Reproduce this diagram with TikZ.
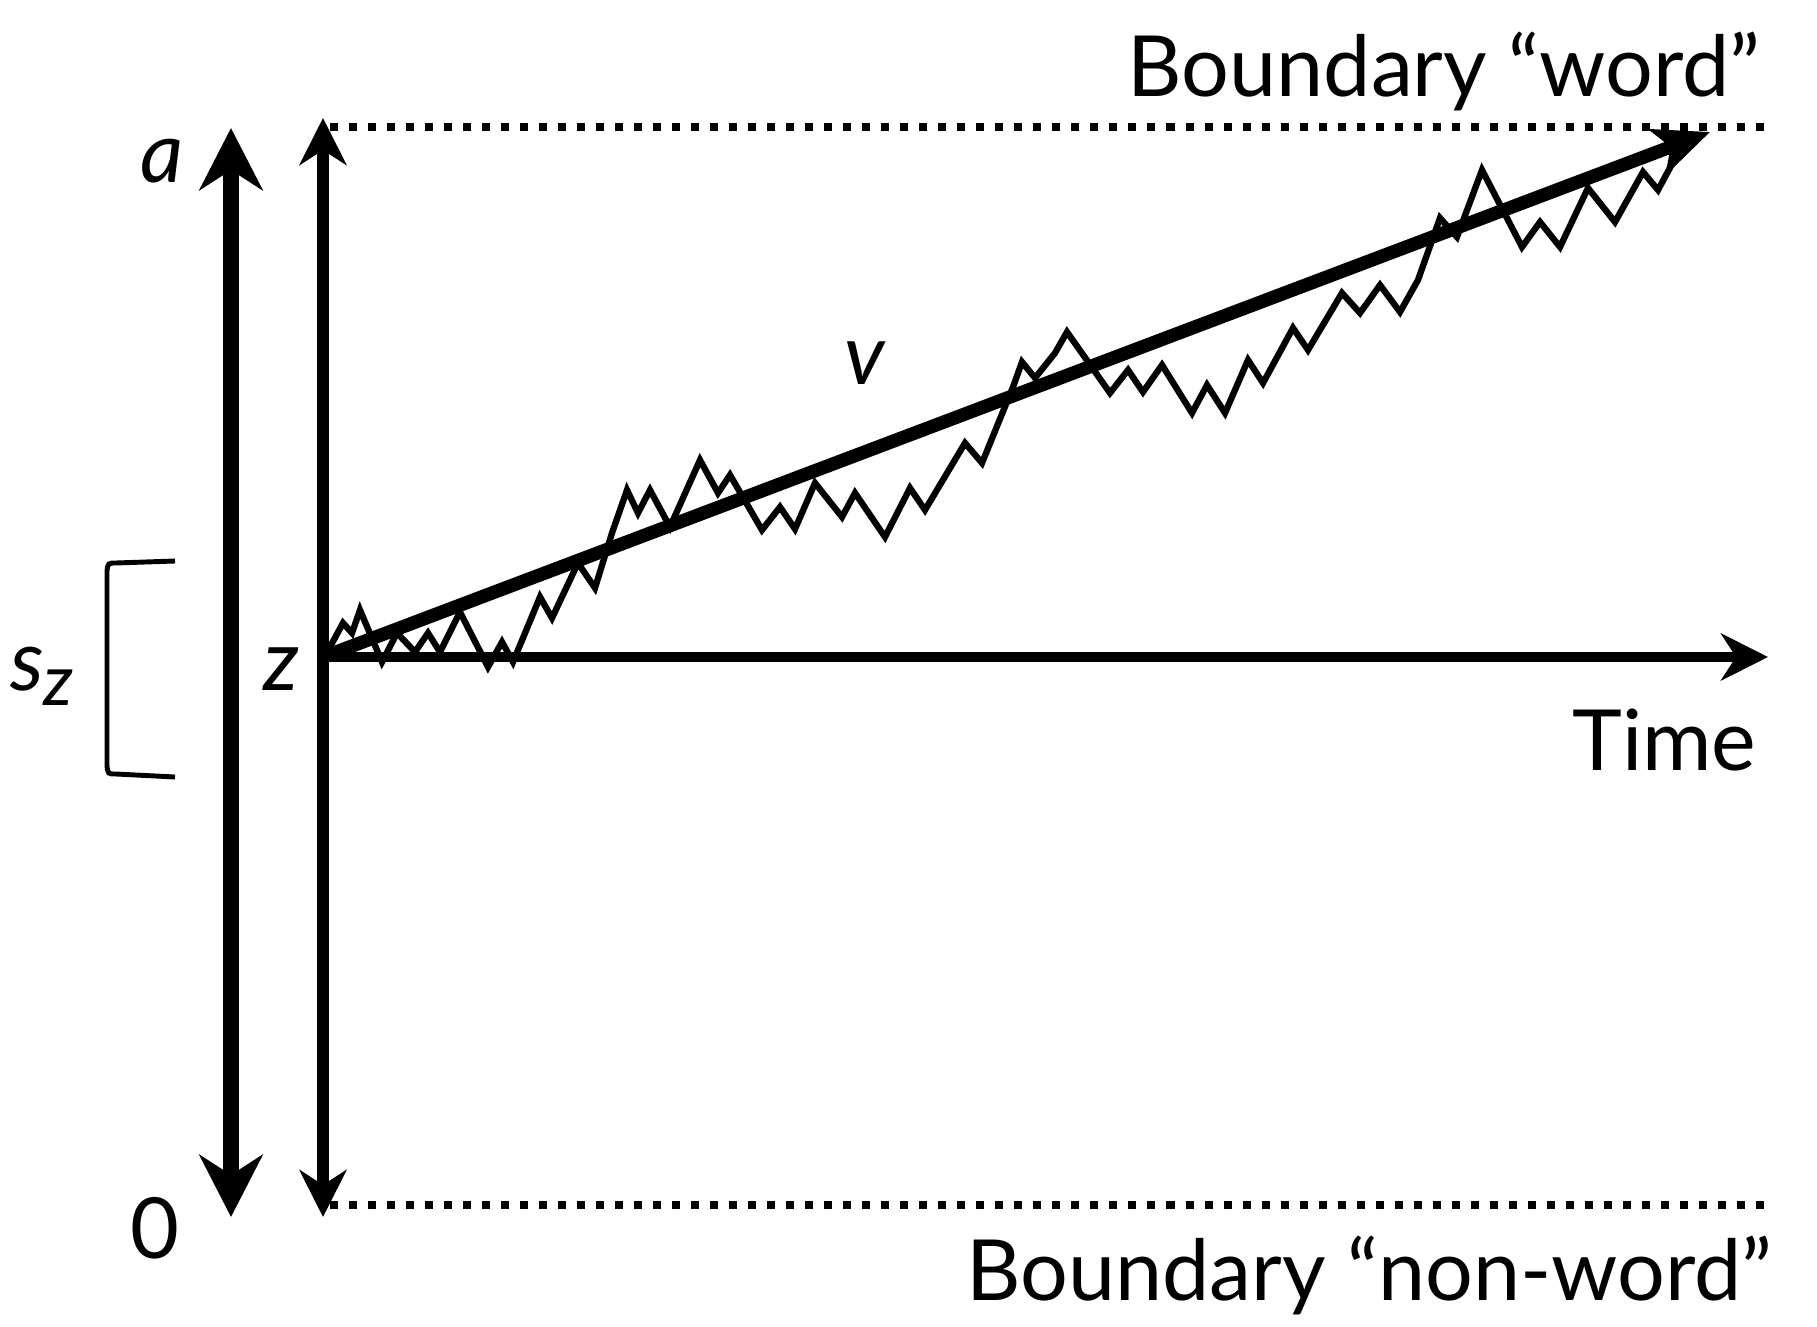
\documentclass[tikz,border=0pt]{standalone}
\usepackage{fontspec}
\setmainfont{Lato}
\usetikzlibrary{arrows.meta}

\begin{document}
\begin{tikzpicture}[x=0.01cm,y=-0.01cm,
	every node/.style={font=\fontsize{24}{28}\selectfont,inner sep=0pt},
	bigaxis/.style={line width=4.8pt,{Stealth[length=0.62cm,width=0.63cm,inset=0.2cm]}-{Stealth[length=0.62cm,width=0.63cm,inset=0.2cm]}},
	zaxis/.style={line width=3.3pt,{Stealth[length=0.47cm,width=0.47cm,inset=0.15cm]}-{Stealth[length=0.47cm,width=0.47cm,inset=0.15cm]}},
	taxis/.style={line width=3pt,-{Stealth[length=0.47cm,width=0.47cm,inset=0.15cm]}},
	drift/.style={line width=3.8pt,-{Stealth[length=0.56cm,width=0.48cm,inset=0.14cm]}},
	bound/.style={line width=0.08cm,dash pattern=on 0.08cm off 0.11cm},
	walk/.style={line width=1.8pt,line join=miter},
	brace/.style={line width=1.4pt}]
	\useasboundingbox (0,0) rectangle (1817,1327);
	% axes
	\coordinate (atop) at (231,128);
	\coordinate (abot) at (231,1217);
	\coordinate (ztop) at (323,118);
	\coordinate (zbot) at (323,1217);
	\coordinate (z) at (323,657);
	\coordinate (tend) at (1768,657);
	\coordinate (vend) at (1710,132);
	\draw[bigaxis] (abot) -- (atop);
	\draw[zaxis] (zbot) -- (ztop);
	\draw[taxis] (z) -- (tend);
	% boundaries
	\draw[bound] (330,127) coordinate (wl) -- (1770,127) coordinate (wr);
	\draw[bound] (330,1205) coordinate (nl) -- (1770,1205) coordinate (nr);
	% diffusion path
	\draw[walk] plot coordinates {(323,655) (330,647) (343,623) (352,633) (360,610) (382,662)
		(397,633) (415,652) (428,633) (440,652) (460,612) (488,667) (502,642) (513,662)
		(540,597) (552,618) (578,563) (595,588) (612,533) (627,490) (638,513) (650,490)
		(670,527) (700,460) (718,493) (730,475) (762,530) (780,507) (795,529) (815,483)
		(842,517) (855,493) (885,537) (910,488) (925,510) (965,443) (982,463) (1013,387)
		(1022,362) (1035,378) (1055,353) (1067,332) (1110,393) (1128,370) (1143,392)
		(1162,365) (1192,413) (1207,385) (1225,413) (1248,360) (1263,383) (1293,328)
		(1308,350) (1342,293) (1360,313) (1380,285) (1400,312) (1418,280) (1440,218)
		(1457,237) (1482,170) (1522,247) (1540,222) (1560,247) (1588,188) (1615,222)
		(1643,172) (1658,190) (1685,140)};
	\draw[drift] (z) -- (vend);
	% starting point range
	\draw[brace] (175,561) -- (116,563) .. controls (108,563) .. (107,571) -- (107,766)
		.. controls (108,774) .. (116,774) -- (175,777);
	% labels
	\node (lbla) at (162,161) {\itshape a};
	\node (lblzero) at (155,1228) {0};
	\node (lblsz) at (42,676) {\itshape s\raisebox{-0.35ex}{\fontsize{20}{24}\selectfont z}};
	\node (lblz) at (281,669) {\itshape z};
	\node (lblv) at (865,363) {\itshape v};
	\node[anchor=base east] (lbltime) at (1757,770) {Time};
	\node[anchor=base east] (lblword) at (1761,97) {Boundary “word”};
	\node[anchor=base east] (lblnonword) at (1773,1300) {Boundary “non-word”};
\end{tikzpicture}
\end{document}
